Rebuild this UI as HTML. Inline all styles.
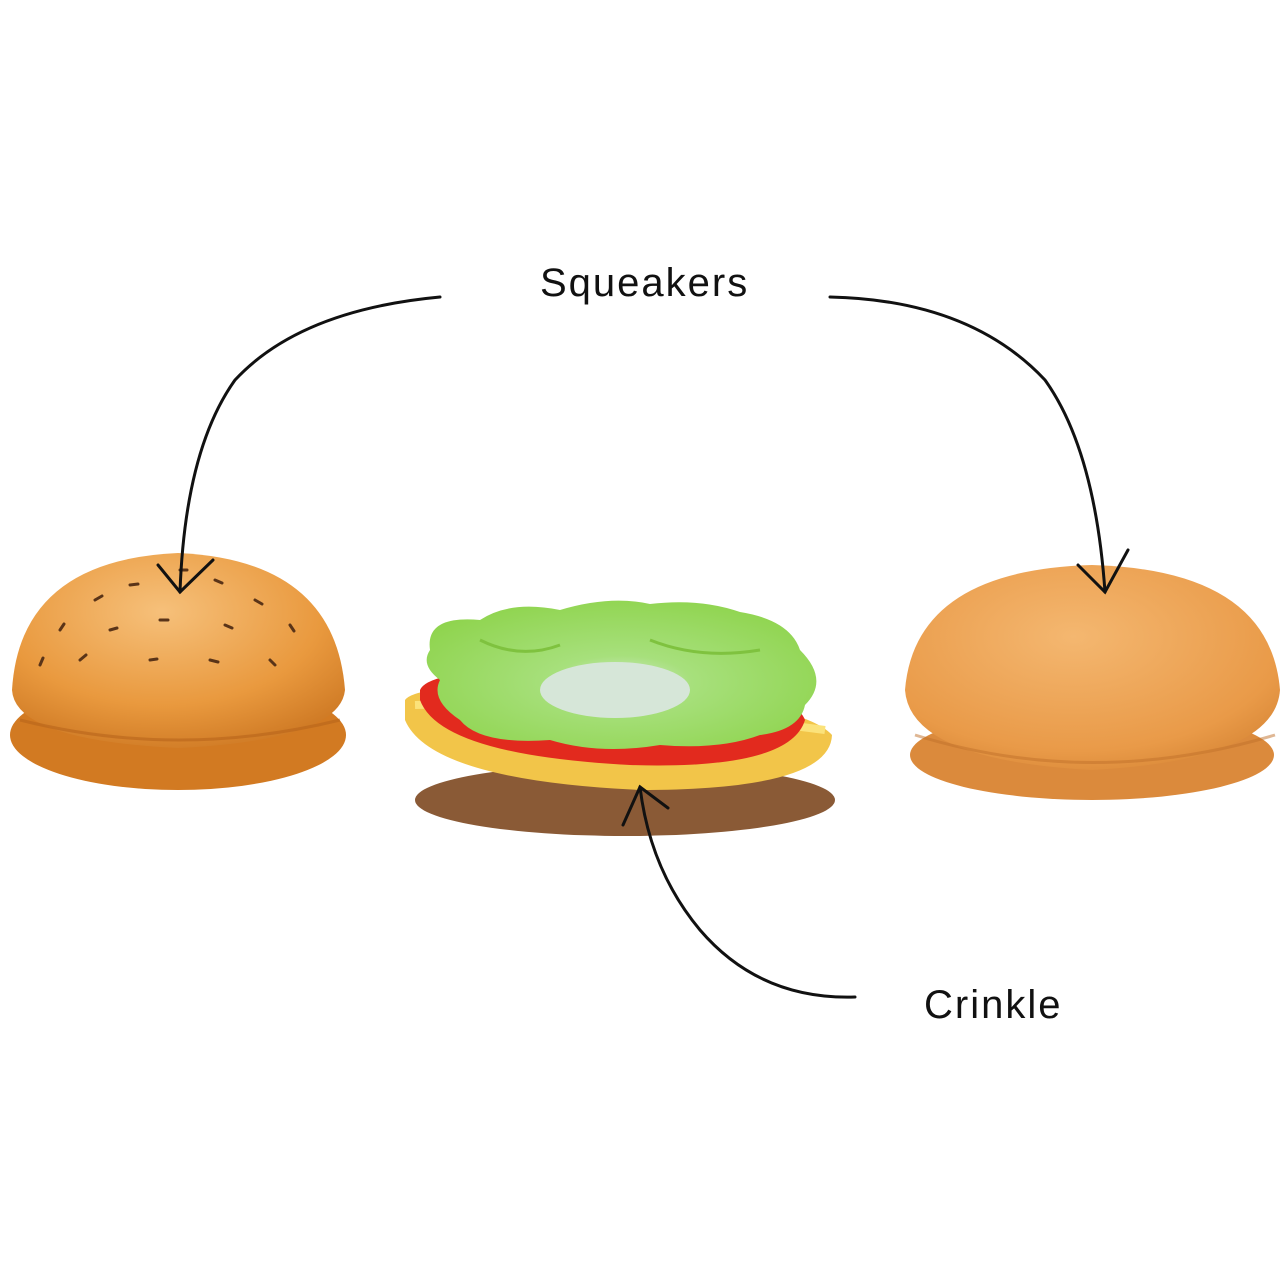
<!DOCTYPE html>
<html><head><meta charset="utf-8"><style>
html,body{margin:0;padding:0;background:#fff;}
svg{display:block}
text{font-family:"Liberation Sans Narrow","Liberation Sans",sans-serif;fill:#111;letter-spacing:2px}
</style></head><body>
<svg width="1280" height="1280" viewBox="0 0 1280 1280" xmlns="http://www.w3.org/2000/svg">
<defs>
<radialGradient id="bunL" cx="0.45" cy="0.3" r="0.8">
<stop offset="0" stop-color="#f6c07a"/><stop offset="0.6" stop-color="#e9993e"/><stop offset="1" stop-color="#c9731f"/></radialGradient>
<radialGradient id="bunR" cx="0.45" cy="0.35" r="0.8">
<stop offset="0" stop-color="#f4b770"/><stop offset="0.7" stop-color="#e99a48"/><stop offset="1" stop-color="#d07e2e"/></radialGradient>
<radialGradient id="let" cx="0.5" cy="0.55" r="0.6">
<stop offset="0" stop-color="#cfe8c8"/><stop offset="0.3" stop-color="#a7e07c"/><stop offset="1" stop-color="#8fd44e"/></radialGradient>
</defs>
<rect width="1280" height="1280" fill="#fff"/>

<!-- left bun -->
<ellipse cx="178" cy="735" rx="168" ry="55" fill="#d27a22"/>
<path d="M12 690 Q20 560 178 553 Q335 560 345 690 Q340 740 178 748 Q15 740 12 690Z" fill="url(#bunL)"/>
<path d="M20 720 Q178 760 340 720" stroke="#b8641a" stroke-width="3" fill="none" opacity=".6"/>
<g stroke="#5a3418" stroke-width="3" stroke-linecap="round">
<line x1="95" y1="600" x2="102" y2="596"/><line x1="130" y1="585" x2="138" y2="584"/><line x1="215" y1="580" x2="222" y2="583"/>
<line x1="255" y1="600" x2="262" y2="604"/><line x1="290" y1="625" x2="294" y2="631"/><line x1="60" y1="630" x2="64" y2="624"/>
<line x1="110" y1="630" x2="117" y2="628"/><line x1="160" y1="620" x2="168" y2="620"/><line x1="225" y1="625" x2="232" y2="628"/>
<line x1="80" y1="660" x2="86" y2="655"/><line x1="150" y1="660" x2="157" y2="659"/><line x1="210" y1="660" x2="218" y2="662"/>
<line x1="270" y1="660" x2="275" y2="665"/><line x1="40" y1="665" x2="43" y2="658"/><line x1="180" y1="570" x2="187" y2="570"/>
</g>

<!-- right bun -->
<ellipse cx="1092" cy="755" rx="182" ry="45" fill="#db8a3c"/>
<path d="M905 690 Q915 570 1092 565 Q1270 570 1280 690 Q1275 760 1092 770 Q910 760 905 690Z" fill="url(#bunR)"/>
<path d="M915 735 Q1092 790 1275 735" stroke="#c0702a" stroke-width="3" fill="none" opacity=".5"/>

<!-- middle stack -->
<ellipse cx="625" cy="800" rx="210" ry="36" fill="#8a5a36"/>
<path d="M405 700 Q420 680 600 690 Q800 700 832 735 Q830 790 640 790 Q430 780 405 720Z" fill="#f2c549"/>
<path d="M415 705 Q600 700 825 730" stroke="#fbe27a" stroke-width="8" fill="none"/>
<path d="M420 690 Q430 665 600 670 Q790 680 805 720 Q790 770 630 765 Q440 755 420 700Z" fill="#e22a1e"/>
<path d="M430 650 Q425 615 480 620 Q510 600 560 610 Q610 595 650 604 Q700 598 740 612 Q790 620 800 650 Q830 680 805 705 Q800 730 760 735 Q720 750 660 745 Q600 755 550 740 Q480 745 460 720 Q430 700 440 680 Q420 665 430 650Z" fill="url(#let)"/>
<ellipse cx="615" cy="690" rx="75" ry="28" fill="#d6e6d8"/>
<path d="M480 640 Q520 660 560 645 M650 640 Q700 660 760 650" stroke="#7fc23f" stroke-width="3" fill="none"/>

<!-- text -->
<text x="540" y="296" font-size="40">Squeakers</text>
<text x="924" y="1018" font-size="40">Crinkle</text>

<!-- arrows -->
<g stroke="#111" stroke-width="3" fill="none" stroke-linecap="round">
<path d="M440 297 Q300 310 235 380 Q185 450 180 592"/>
<path d="M158 565 L180 592 L213 560"/>
<path d="M830 297 Q970 300 1045 380 Q1095 450 1105 592"/>
<path d="M1078 565 L1105 592 L1128 550"/>
<path d="M855 997 Q760 1000 700 930 Q650 870 640 787"/>
<path d="M623 825 L640 787 L668 808"/>
</g>
</svg>
</body></html>
